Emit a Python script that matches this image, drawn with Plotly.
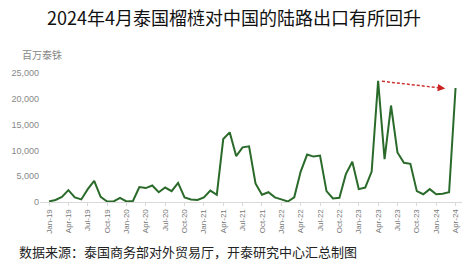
import plotly.graph_objects as go

months = ["Jan","Feb","Mar","Apr","May","Jun","Jul","Aug","Sep","Oct","Nov","Dec"]
categories = [f"{m}-{y}" for y in ["19","20","21","22","23","24"] for m in months][:64]

values = [
    100, 400, 1000, 2300, 900, 500, 2500, 4100, 1000, 100, 100, 800,
    100, 200, 2900, 2700, 3200, 1900, 2800, 2100, 3700, 900, 500, 400,
    900, 2200, 1400, 12200, 13500, 8900, 10600, 10800, 3600, 1400, 1900, 900,
    500, 100, 900, 5900, 9200, 8800, 9000, 2100, 700, 800, 5400, 7800,
    2500, 2800, 5900, 23500, 8300, 18700, 9600, 7600, 7400, 2100, 1500, 2500,
    1500, 1600, 1900, 22100,
]
tick_idx = list(range(0, 64, 3))
tick_labels = [categories[i] for i in tick_idx]
ytick_vals = [0, 5000, 10000, 15000, 20000, 25000]
ytick_text = ["0", "5,000", "10,000", "15,000", "20,000", "25,000"]

# arrow (data coords)
arrow_start = (51.6, 23400)
arrow_end = (61.4, 22000)

x = list(range(len(values)))
fig = go.Figure()
fig.add_trace(go.Scatter(x=x, y=values, mode="lines",
                         line=dict(color="#2a6a2a", width=2), hoverinfo="skip"))

fig.add_shape(type="line", x0=arrow_start[0], y0=arrow_start[1],
              x1=arrow_end[0] - 0.5, y1=arrow_end[1] + 70,
              line=dict(color="#cc3333", width=1.5, dash="3px,2px"))
fig.add_annotation(x=arrow_end[0], y=arrow_end[1], ax=arrow_end[0] - 1.0, ay=arrow_end[1] + 140,
                   xref="x", yref="y", axref="x", ayref="y", text="",
                   showarrow=True, arrowhead=2, arrowsize=1.0, arrowwidth=1.5,
                   arrowcolor="#cc2222")

font_cjk = "Noto Sans CJK SC"
fig.update_layout(
    width=468, height=268,
    margin=dict(l=40, r=6, t=73, b=66),
    paper_bgcolor="white", plot_bgcolor="white",
    showlegend=False,
    font=dict(family=font_cjk, color="#888888"),
    title=dict(text="2024年4月泰国榴梿对中国的陆路出口有所回升",
               x=0.5, xanchor="center", y=0.93, yanchor="middle",
               font=dict(size=18, color="#111111", family=font_cjk)),
    xaxis=dict(range=[-1.4, 64.0], tickmode="array", tickvals=tick_idx, ticktext=tick_labels,
               tickangle=-90, tickfont=dict(size=8, color="#777777", family="Liberation Sans"),
               showgrid=False, zeroline=False, showline=True, linecolor="#d9d9d9", linewidth=1,
               ticks="outside", ticklen=3, tickcolor="#d9d9d9"),
    yaxis=dict(range=[0, 25000], tickmode="array", tickvals=ytick_vals, ticktext=ytick_text,
               tickfont=dict(size=9, color="#888888", family="Liberation Sans"),
               showgrid=False, zeroline=False, showline=False, ticks=""),
)
fig.add_annotation(text="百万泰铢", xref="paper", yref="paper", x=-0.048, y=1.14, xanchor="left",
                   yanchor="middle", showarrow=False, font=dict(size=10, color="#888888", family=font_cjk))
fig.add_annotation(text="数据来源：泰国商务部对外贸易厅，开泰研究中心汇总制图", xref="paper", yref="paper",
                   x=-0.054, y=-0.385, xanchor="left", yanchor="middle", showarrow=False,
                   font=dict(size=13, color="#222222", family=font_cjk))

fig.write_html("out.html")
